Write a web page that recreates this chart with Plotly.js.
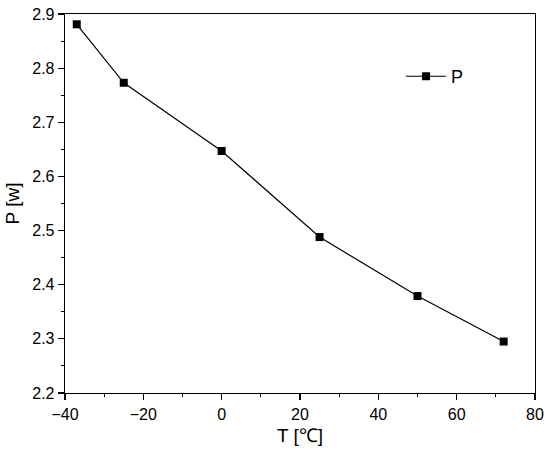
<!DOCTYPE html>
<html>
<head>
<meta charset="utf-8">
<script src="https://cdn.plot.ly/plotly-3.0.1.min.js"></script>
<style>html,body{margin:0;padding:0;background:#fff;}#chart{width:550px;height:456px;}</style>
</head>
<body>
<div id="chart"></div>
<script>
const temperature = [-37, -25, 0, 25, 50, 72];
const power = [2.881, 2.773, 2.647, 2.488, 2.379, 2.295];
const seriesName = 'P';

const trace = {
  x: temperature,
  y: power,
  name: seriesName,
  type: 'scatter',
  mode: 'lines+markers',
  line: {color: '#000', width: 1.2},
  marker: {symbol: 'square', size: 8, color: '#000'}
};

const axisCommon = {
  showline: true, linecolor: '#000', linewidth: 1.3, mirror: true,
  ticks: 'outside', ticklen: 6, tickwidth: 1.2, tickcolor: '#000',
  showgrid: false, zeroline: false,
  tickfont: {family: 'Liberation Sans, Arial, sans-serif', size: 16, color: '#000'}
};

const layout = {
  width: 550, height: 456,
  margin: {l: 65, r: 15, t: 14, b: 63},
  paper_bgcolor: '#fff', plot_bgcolor: '#fff',
  font: {family: 'Liberation Sans, Arial, sans-serif', color: '#000'},
  xaxis: Object.assign({}, axisCommon, {
    range: [-40, 80], dtick: 20, tick0: -40,
    minor: {dtick: 10, ticks: 'outside', ticklen: 3, tickwidth: 1, tickcolor: '#000', showgrid: false},
    title: {text: 'T [℃]', font: {size: 19, color: '#000'}, standoff: 7}
  }),
  yaxis: Object.assign({}, axisCommon, {
    range: [2.2, 2.9], dtick: 0.1, tick0: 2.2, tickformat: '.1f',
    minor: {dtick: 0.05, ticks: 'outside', ticklen: 3, tickwidth: 1, tickcolor: '#000', showgrid: false},
    title: {text: 'P [w]', font: {size: 19, color: '#000'}, standoff: 7}
  }),
  showlegend: true,
  legend: {
    x: 0.715, y: 0.835, xanchor: 'left', yanchor: 'middle',
    itemwidth: 40,
    bgcolor: 'rgba(0,0,0,0)', borderwidth: 0,
    font: {size: 18, color: '#000'}
  }
};

Plotly.newPlot('chart', [trace], layout, {displayModeBar: false, staticPlot: true});
</script>
</body>
</html>
